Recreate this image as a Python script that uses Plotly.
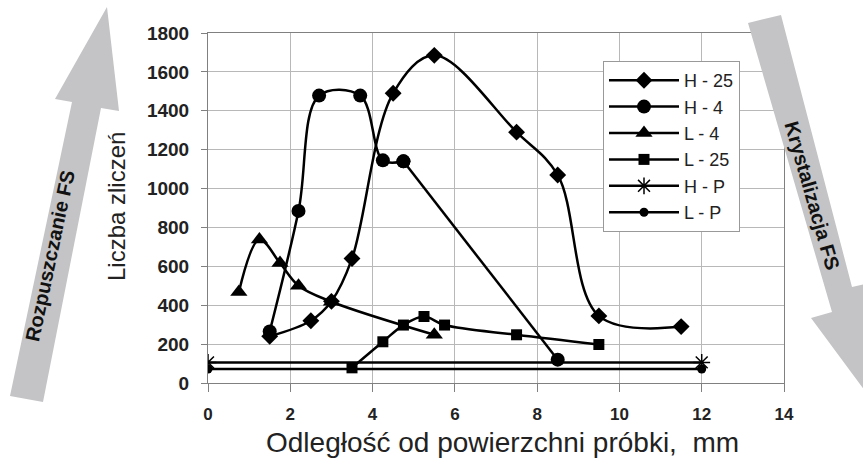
import plotly.graph_objects as go

# ---- data ----
h25_x = [1.5, 2.5, 3.0, 3.5, 4.5, 5.5, 7.5, 8.5, 9.5, 11.5]
h25_y = [240, 320, 420, 640, 1490, 1685, 1290, 1070, 345, 290]

h4_x = [1.5, 2.2, 2.7, 3.7, 4.25, 4.75, 8.5]
h4_y = [265, 885, 1478, 1478, 1145, 1140, 120]

l4_x = [0.75, 1.25, 1.75, 2.2, 3.0, 5.5]
l4_y = [468, 738, 617, 500, 418, 248]

l25_x = [3.5, 4.25, 4.75, 5.25, 5.75, 7.5, 9.5]
l25_y = [78, 212, 298, 342, 298, 248, 198]

hp_x = [0, 12]
hp_y = [106, 106]

lp_x = [0, 12]
lp_y = [72, 72]

x_ticks = [0, 2, 4, 6, 8, 10, 12, 14]
y_ticks = [0, 200, 400, 600, 800, 1000, 1200, 1400, 1600, 1800]

FONT = "Liberation Sans, Arial, sans-serif"
W, H = 863, 463
L, R, T, B = 208, 784, 33, 383  # plot area in pixels


def px(xp):
    return (xp - L) / (R - L)


def py(yp):
    return (B - yp) / (B - T)


fig = go.Figure()
LINE = dict(color="black", width=2.5)

fig.add_trace(go.Scatter(
    x=h25_x, y=h25_y, name="H - 25", mode="lines+markers",
    line=dict(LINE, shape="spline", smoothing=1.0),
    marker=dict(symbol="diamond", size=13, color="black"),
))

# H - 4: curved part, then the straight final segment
k = h4_x.index(4.75)
fig.add_trace(go.Scatter(
    x=h4_x[:k + 1], y=h4_y[:k + 1], name="H - 4", mode="lines+markers",
    legendgroup="h4",
    line=dict(LINE, shape="spline", smoothing=1.0),
    marker=dict(symbol="circle", size=14, color="black"),
))
fig.add_trace(go.Scatter(
    x=h4_x[k:], y=h4_y[k:], name="H - 4", mode="lines+markers",
    legendgroup="h4", showlegend=False,
    line=dict(LINE, shape="linear"),
    marker=dict(symbol="circle", size=14, color="black"),
))

fig.add_trace(go.Scatter(
    x=l4_x, y=l4_y, name="L - 4", mode="lines+markers",
    line=dict(LINE, shape="spline", smoothing=1.0),
    marker=dict(symbol="triangle-up", size=15, color="black"),
))
fig.add_trace(go.Scatter(
    x=l25_x, y=l25_y, name="L - 25", mode="lines+markers",
    line=dict(LINE, shape="spline", smoothing=1.0),
    marker=dict(symbol="square", size=11, color="black"),
))
fig.add_trace(go.Scatter(
    x=hp_x, y=hp_y, name="H - P", mode="lines+markers",
    line=LINE,
    marker=dict(symbol="asterisk-open", size=14, color="black",
                line=dict(color="black", width=1.5)),
))
fig.add_trace(go.Scatter(
    x=lp_x, y=lp_y, name="L - P", mode="lines+markers",
    line=LINE,
    marker=dict(symbol="circle", size=9, color="black"),
))

axis_common = dict(
    showgrid=True, gridcolor="#b8b8b8", gridwidth=1,
    showline=True, linecolor="#808080", linewidth=1, mirror=True,
    ticks="outside", tickcolor="#808080", zeroline=False,
)

fig.update_xaxes(range=[0, 14], tickvals=x_ticks, ticklen=8,
                 tickfont=dict(family=FONT, size=17, color="#222", weight="bold"),
                 ticklabelstandoff=8, **axis_common)
fig.update_yaxes(range=[0, 1800], tickvals=y_ticks, ticklen=6,
                 tickfont=dict(family=FONT, size=19, color="#222", weight="bold"),
                 ticklabelstandoff=8, **axis_common)

# gray arrows
arrow_gray = "#c4c4c6"
left_arrow = [(10, 396), (43, 402), (101, 108), (119, 111), (107, 7), (55, 99), (72, 102)]
right_arrow = [(748, 23), (781, 15), (852, 287), (873, 282), (868, 395), (811, 318), (832, 312)]
for poly in (left_arrow, right_arrow):
    path = "M " + " L ".join(f"{px(a):.5f},{py(b):.5f}" for a, b in poly) + " Z"
    fig.add_shape(type="path", path=path, xref="paper", yref="paper",
                  fillcolor=arrow_gray, line=dict(width=0), layer="above")

annotations = [
    dict(text="Rozpuszczanie FS", x=px(50), y=py(256), textangle=-78,
         font=dict(family=FONT, size=20, color="#111", weight="bold")),
    dict(text="Krystalizacja FS", x=px(812), y=py(195), textangle=74,
         font=dict(family=FONT, size=20, color="#111", weight="bold")),
    dict(text="Liczba zliczeń", x=px(116), y=py(207), textangle=-90,
         font=dict(family=FONT, size=24, color="#222")),
    dict(text="Odległość od powierzchni próbki,  mm", x=px(502), y=py(442),
         font=dict(family=FONT, size=28, color="#222")),
]
for a in annotations:
    fig.add_annotation(xref="paper", yref="paper", showarrow=False,
                       xanchor="center", yanchor="middle", **a)

fig.update_layout(
    width=W, height=H,
    margin=dict(l=L, r=W - R, t=T, b=H - B, pad=0),
    paper_bgcolor="white", plot_bgcolor="white",
    font=dict(family=FONT, color="#222"),
    legend=dict(
        x=px(603), y=py(61), xanchor="left", yanchor="top",
        bgcolor="white", bordercolor="#999", borderwidth=1,
        font=dict(family=FONT, size=18, color="#222"),
        itemwidth=70, tracegroupgap=0,
    ),
    showlegend=True,
)

fig.write_html("out.html")
